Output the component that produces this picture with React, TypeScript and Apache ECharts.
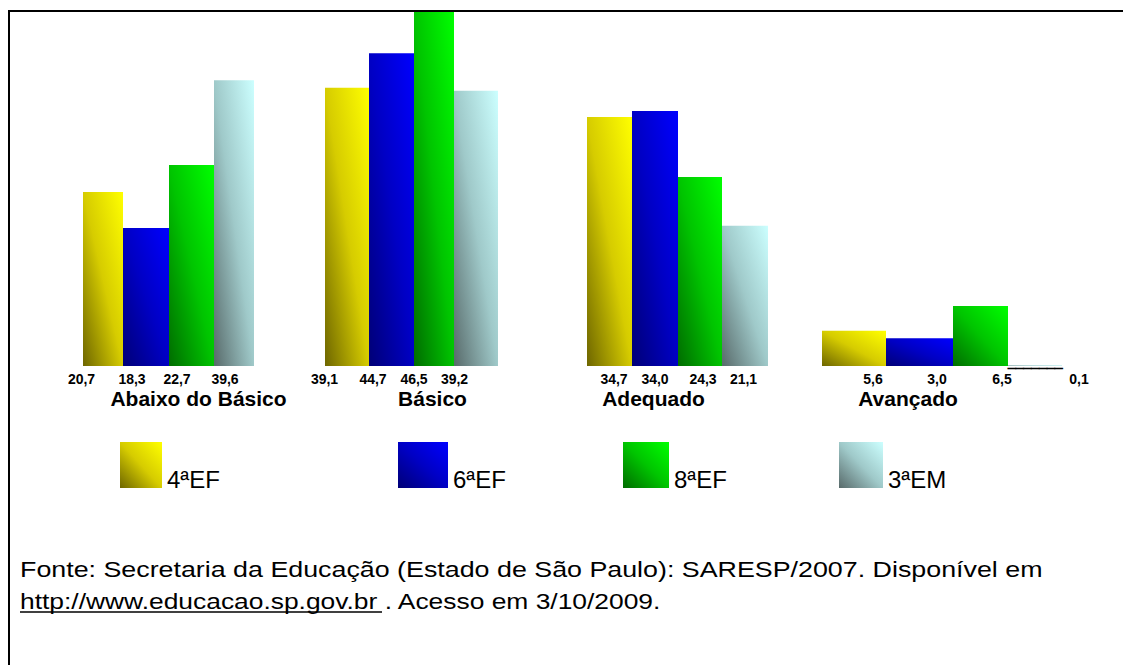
import React, { useEffect, useRef } from 'react';
import * as echarts from 'echarts';

const categories = ['Abaixo do Básico', 'Básico', 'Adequado', 'Avançado'];
const grades = ['4ªEF', '6ªEF', '8ªEF', '3ªEM'];

// bar heights as they are drawn in the picture (same units for all groups)
const bars4EF = [23.2, 37.1, 33.2, 4.7];
const bars6EF = [18.4, 41.7, 34.0, 3.7];
const bars8EF = [26.8, 47.2, 25.2, 8.0];
const bars3EM = [38.1, 36.7, 18.7, 0.1];

// values printed under the bars
const labels4EF = ['20,7', '39,1', '34,7', '5,6'];
const labels6EF = ['18,3', '44,7', '34,0', '3,0'];
const labels8EF = ['22,7', '46,5', '24,3', '6,5'];
const labels3EM = ['39,6', '39,2', '21,1', '0,1'];

const sourceLine1 = 'Fonte: Secretaria da Educação (Estado de São Paulo): SARESP/2007. Disponível em';
const sourceLine2 = 'http://www.educacao.sp.gov.br . Acesso em 3/10/2009.';
const zeroMark = '_______';

const barSets = [bars4EF, bars6EF, bars8EF, bars3EM];
const labelSets = [labels4EF, labels6EF, labels8EF, labels3EM];

// layout (pixels)
const GROUP_LEFT = [83, 325, 587, 822];
const BAR_W = [
  [40, 46, 45, 40],
  [44, 45, 40, 44],
  [45, 46, 44, 46],
  [64, 67, 55, 54],
];
const LABEL_DX = [
  [-21.5, -14, -14.5, -9],
  [-22.5, -18.5, -20, -21.5],
  [4.5, 0, 3, -1.5],
  [19, 17.5, 21.5, 44],
];
const CAT_DX = [30, 21, -24, -34];
const LEGEND_LEFT = [120, 398, 623, 839];
const LEGEND_W = [42, 50, 46, 44];

const FONT = "'Liberation Sans', Arial, Helvetica, sans-serif";

const grad = (stops: [number, string][]) => ({
  type: 'linear',
  x: 1,
  y: 0,
  x2: 0,
  y2: 1,
  colorStops: stops.map(([offset, color]) => ({ offset, color })),
});

const COLORS = [
  grad([[0, '#ffff00'], [0.5, '#d6cc00'], [1, '#6e6600']]),
  grad([[0, '#0000ff'], [0.5, '#0000c4'], [1, '#000076']]),
  grad([[0, '#00ff00'], [0.5, '#00c400'], [1, '#006c00']]),
  grad([[0, '#ccffff'], [0.5, '#9fc9c9'], [1, '#586a6a']]),
];

export default function App() {
  const ref = useRef<HTMLDivElement>(null);

  useEffect(() => {
    if (!ref.current) return;
    const chart = echarts.init(ref.current, undefined, { renderer: 'svg' });

    const grids: any[] = [];
    const xAxes: any[] = [];
    const yAxes: any[] = [];
    const series: any[] = [];

    categories.forEach((cat, g) => {
      const total = BAR_W[g].reduce((a, b) => a + b, 0);
      grids.push({ left: GROUP_LEFT[g], width: total, top: 6, height: 360 });
      const dx = CAT_DX[g];
      xAxes.push({
        gridIndex: g,
        type: 'category',
        data: [cat],
        axisLine: { show: false },
        axisTick: { show: false },
        splitLine: { show: false },
        axisLabel: {
          margin: 22,
          fontSize: 21,
          fontWeight: 'bold',
          color: '#000',
          fontFamily: FONT,
          interval: 0,
          padding: dx > 0 ? [0, 0, 0, 2 * dx] : [0, -2 * dx, 0, 0],
        },
      });
      yAxes.push({ gridIndex: g, type: 'value', min: 0, max: 48, show: false, splitLine: { show: false } });
      grades.forEach((grade, s) => {
        series.push({
          type: 'bar',
          name: grade,
          xAxisIndex: g,
          yAxisIndex: g,
          data: [barSets[s][g]],
          barWidth: BAR_W[g][s],
          barGap: '0%',
          itemStyle: { color: COLORS[s] },
          label: {
            show: true,
            position: 'bottom',
            distance: 6,
            offset: [LABEL_DX[g][s], 0],
            formatter: labelSets[s][g],
            fontSize: 14,
            fontWeight: 'bold',
            color: '#000',
            fontFamily: FONT,
          },
        });
      });
    });

    const legends = grades.map((grade, s) => ({
      data: [grade],
      left: LEGEND_LEFT[s],
      top: 442,
      padding: 0,
      itemWidth: LEGEND_W[s],
      itemHeight: 46,
      icon: 'rect',
      selectedMode: false,
      formatter: '{t|{name}}',
      textStyle: {
        fontSize: 24,
        color: '#000',
        fontFamily: FONT,
        rich: {
          t: {
            fontSize: 24,
            color: '#000',
            fontFamily: FONT,
            padding: [28, 0, 0, 0],
          },
        },
      },
    }));

    chart.setOption({
      animation: false,
      backgroundColor: '#ffffff',
      grid: grids,
      xAxis: xAxes,
      yAxis: yAxes,
      legend: legends,
      series,
      graphic: [
        { type: 'line', z: 100, shape: { x1: 8, y1: 11, x2: 1123, y2: 11 }, style: { stroke: '#000', lineWidth: 2 } },
        { type: 'line', z: 100, shape: { x1: 9, y1: 10, x2: 9, y2: 665 }, style: { stroke: '#000', lineWidth: 2 } },
        {
          type: 'text',
          x: 1008,
          y: 362,
          z: 50,
          style: {
            text: zeroMark,
            fontSize: 14,
            fontWeight: 'bold',
            fontFamily: FONT,
            fill: '#000',
            stroke: '#000',
            lineWidth: 0.8,
            verticalAlign: 'middle',
          },
        },
        {
          type: 'text',
          x: 20,
          y: 569,
          scaleX: 1.22,
          style: { text: sourceLine1, fontSize: 22, fontFamily: FONT, fill: '#000', verticalAlign: 'middle' },
        },
        {
          type: 'text',
          x: 20,
          y: 601,
          scaleX: 1.2,
          style: { text: sourceLine2, fontSize: 22, fontFamily: FONT, fill: '#000', verticalAlign: 'middle' },
        },
        { type: 'line', shape: { x1: 20, y1: 612, x2: 382, y2: 612 }, style: { stroke: '#000', lineWidth: 1.5 } },
      ],
    });

    return () => chart.dispose();
  }, []);

  return (
    <div
      ref={ref}
      style={{ position: 'fixed', left: 0, top: 0, width: 1123, height: 665, background: '#fff' }}
    />
  );
}
